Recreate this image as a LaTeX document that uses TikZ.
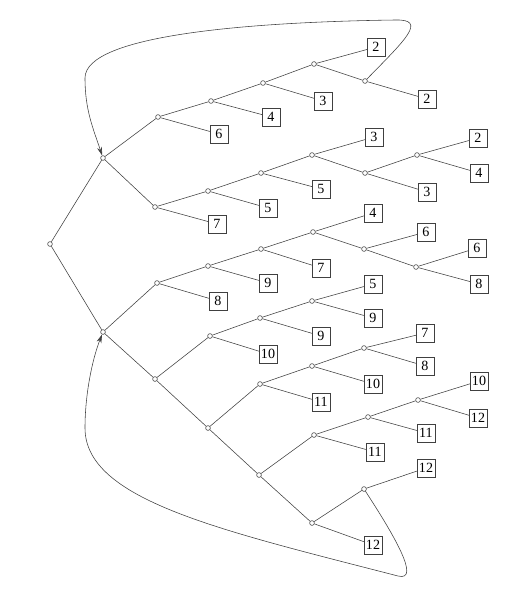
\documentclass[tikz,border=0pt]{standalone}
\usepackage{fontspec}
\setmainfont{Liberation Serif}
\usetikzlibrary{arrows.meta}

\begin{document}
\begin{tikzpicture}[x=0.025cm,y=-0.025cm,black!75,
  pt/.style={circle,draw,inner sep=0pt,minimum size=0.12cm},
  leaf/.style={draw,text=black,inner sep=0pt,minimum size=0.44cm},
  back/.style={-{Stealth[length=6pt,width=3.5pt]}}]
  \useasboundingbox (0,0) rectangle (530,591);
  % inner points
  \node[pt] (r) at (50,244) {};
  \node[pt] (a) at (103,158) {};
  \node[pt] (b) at (103,332) {};
  \node[pt] (a1) at (158,117) {};
  \node[pt] (a11) at (211,101) {};
  \node[pt] (a111) at (263,83) {};
  \node[pt] (a1111) at (314,64) {};
  \node[pt] (a11112) at (365,81) {};
  \node[pt] (a2) at (155,207) {};
  \node[pt] (a21) at (208,191) {};
  \node[pt] (a211) at (261,173) {};
  \node[pt] (a2111) at (312,155) {};
  \node[pt] (a21112) at (365,173) {};
  \node[pt] (a211121) at (417,155) {};
  \node[pt] (b1) at (157,283) {};
  \node[pt] (b11) at (208,266) {};
  \node[pt] (b111) at (261,249) {};
  \node[pt] (b1111) at (313,232) {};
  \node[pt] (b11112) at (364,249) {};
  \node[pt] (b111122) at (416,267) {};
  \node[pt] (b2) at (155,379) {};
  \node[pt] (b21) at (210,336) {};
  \node[pt] (b211) at (260,318) {};
  \node[pt] (b2111) at (312,301) {};
  \node[pt] (b22) at (208,428) {};
  \node[pt] (b221) at (260,384) {};
  \node[pt] (b2211) at (312,366) {};
  \node[pt] (b22111) at (364,348) {};
  \node[pt] (b222) at (259,475) {};
  \node[pt] (b2221) at (314,435) {};
  \node[pt] (b22211) at (368,417) {};
  \node[pt] (b222111) at (418,400) {};
  \node[pt] (b2222) at (312,523) {};
  \node[pt] (b22221) at (364,489) {};
  % leaves
  \node[leaf] (a12) at (219,134) {6};
  \node[leaf] (a112) at (271,117) {4};
  \node[leaf] (a1112) at (323,101) {3};
  \node[leaf] (a11111) at (376,47) {2};
  \node[leaf] (a111122) at (427,99) {2};
  \node[leaf] (a22) at (217,224) {7};
  \node[leaf] (a212) at (268,208) {5};
  \node[leaf] (a2112) at (321,189) {5};
  \node[leaf] (a21111) at (374,137) {3};
  \node[leaf] (a211122) at (427,192) {3};
  \node[leaf] (a2111211) at (478,138) {2};
  \node[leaf] (a2111212) at (479,173) {4};
  \node[leaf] (b12) at (218,301) {8};
  \node[leaf] (b112) at (268,283) {9};
  \node[leaf] (b1112) at (321,268) {7};
  \node[leaf] (b11111) at (373,213) {4};
  \node[leaf] (b111121) at (426,232) {6};
  \node[leaf] (b1111221) at (477,248) {6};
  \node[leaf] (b1111222) at (479,284) {8};
  \node[leaf] (b212) at (268,354) {10};
  \node[leaf] (b2112) at (321,336) {9};
  \node[leaf] (b21111) at (373,284) {5};
  \node[leaf] (b21112) at (373,318) {9};
  \node[leaf] (b2212) at (321,402) {11};
  \node[leaf] (b22112) at (373,384) {10};
  \node[leaf] (b221111) at (425,333) {7};
  \node[leaf] (b221112) at (425,366) {8};
  \node[leaf] (b22212) at (375,452) {11};
  \node[leaf] (b222112) at (426,433) {11};
  \node[leaf] (b2221111) at (479,381) {10};
  \node[leaf] (b2221112) at (478,418) {12};
  \node[leaf] (b22222) at (373,545) {12};
  \node[leaf] (b222211) at (426,468) {12};
  % upper half
  \draw (r) -- (a) -- (a1) -- (a11) -- (a111) -- (a1111) -- (a11111);
  \draw (a1111) -- (a11112) -- (a111122);
  \draw (a1) -- (a12) (a11) -- (a112) (a111) -- (a1112);
  \draw (a) -- (a2) -- (a21) -- (a211) -- (a2111) -- (a21111);
  \draw (a2111) -- (a21112) -- (a211121) -- (a2111211);
  \draw (a2) -- (a22) (a21) -- (a212) (a211) -- (a2112) (a21112) -- (a211122)
    (a211121) -- (a2111212);
  % lower half
  \draw (r) -- (b) -- (b1) -- (b11) -- (b111) -- (b1111) -- (b11111);
  \draw (b1111) -- (b11112) -- (b111121);
  \draw (b11112) -- (b111122) -- (b1111221);
  \draw (b1) -- (b12) (b11) -- (b112) (b111) -- (b1112) (b111122) -- (b1111222);
  \draw (b) -- (b2) -- (b21) -- (b211) -- (b2111) -- (b21111);
  \draw (b2) -- (b22) -- (b221) -- (b2211) -- (b22111) -- (b221111);
  \draw (b22) -- (b222) -- (b2221) -- (b22211) -- (b222111) -- (b2221111);
  \draw (b222) -- (b2222) -- (b22221) -- (b222211);
  \draw (b21) -- (b212) (b211) -- (b2112) (b2111) -- (b21112) (b221) -- (b2212)
    (b2211) -- (b22112) (b22111) -- (b221112) (b2221) -- (b22212)
    (b22211) -- (b222112) (b222111) -- (b2221112) (b2222) -- (b22222);
  % back loops
  \draw[back] (a11112) .. controls (405,40) and (428,19) .. (395,20)
    .. controls (250,22) and (85,35) .. (85,78)
    .. controls (85,110) and (93,128) .. (a);
  \draw[back] (b22221) .. controls (392,532) and (422,582) .. (398,576)
    .. controls (220,530) and (85,500) .. (85,428)
    .. controls (85,395) and (92,360) .. (b);
\end{tikzpicture}
\end{document}
